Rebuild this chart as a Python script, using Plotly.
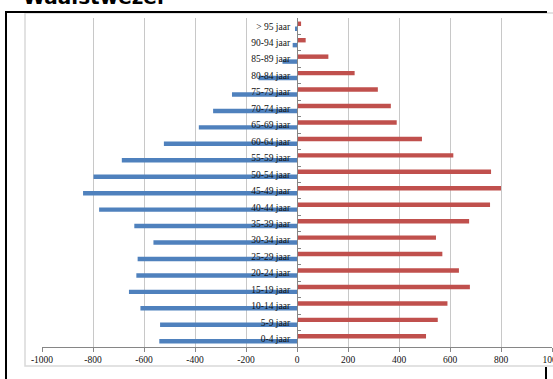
import plotly.graph_objects as go

# Age groups, youngest at the bottom
age_groups = ["0-4 jaar", "5-9 jaar", "10-14 jaar", "15-19 jaar", "20-24 jaar",
              "25-29 jaar", "30-34 jaar", "35-39 jaar", "40-44 jaar", "45-49 jaar",
              "50-54 jaar", "55-59 jaar", "60-64 jaar", "65-69 jaar", "70-74 jaar",
              "75-79 jaar", "80-84 jaar", "85-89 jaar", "90-94 jaar", "> 95 jaar"]

# Men plotted to the left (negative), women to the right
men = [-540, -537, -614, -659, -630, -625, -563, -638, -776, -839,
       -798, -687, -522, -385, -329, -255, -151, -57, -17, -5]
women = [506, 552, 590, 678, 635, 570, 545, 675, 757, 800,
         761, 613, 490, 391, 368, 317, 226, 123, 34, 16]

x_ticks = [-1000, -800, -600, -400, -200, 0, 200, 400, 600, 800, 1000]

W, H = 553, 379
ML, MR, MT, MB = 42, 1, 18, 32
PW, PH = W - ML - MR, H - MT - MB


def fx(px):
    return (px - ML) / PW


def fy(py):
    return (H - MB - py) / PH


serif = "Liberation Serif"

fig = go.Figure()
fig.add_trace(go.Bar(y=age_groups, x=men, orientation="h",
                     marker=dict(color="#4f81bd", line=dict(width=0)), name="Mannen"))
fig.add_trace(go.Bar(y=age_groups, x=women, orientation="h",
                     marker=dict(color="#c0504d", line=dict(width=0)), name="Vrouwen"))

shapes = [
    # chart area
    dict(type="rect", xref="paper", yref="paper", layer="below",
         x0=fx(25), x1=fx(600), y0=fy(366), y1=fy(13),
         fillcolor="white", line=dict(color="#d9d9d9", width=1.5)),
    # outer frame
    dict(type="line", xref="paper", yref="paper", layer="above",
         x0=fx(6), x1=fx(6), y0=fy(12), y1=fy(400),
         line=dict(color="black", width=2)),
    dict(type="line", xref="paper", yref="paper", layer="above",
         x0=fx(5), x1=fx(547), y0=fy(12), y1=fy(12),
         line=dict(color="black", width=2)),
    dict(type="line", xref="paper", yref="paper", layer="above",
         x0=fx(546), x1=fx(546), y0=fy(367), y1=fy(400),
         line=dict(color="black", width=2)),
]

fig.update_layout(
    width=W, height=H,
    margin=dict(l=ML, r=MR, t=MT, b=MB, autoexpand=False),
    paper_bgcolor="white", plot_bgcolor="white",
    barmode="group", bargap=0.4, bargroupgap=0.1,
    showlegend=False,
    shapes=shapes,
    annotations=[dict(text="<b>Waalstwezer</b>", xref="paper", yref="paper",
                      x=fx(21), y=fy(11), xanchor="left", yanchor="bottom",
                      showarrow=False,
                      font=dict(family="DejaVu Sans", size=20, color="black"))],
    xaxis=dict(range=[-1000, 1000], tickvals=x_ticks,
               ticktext=[str(v) for v in x_ticks],
               showgrid=True, gridcolor="#c8c8c8", gridwidth=1,
               zeroline=False, showline=True, linecolor="#868686", linewidth=1,
               ticks="outside", ticklen=4, tickcolor="#868686",
               ticklabeloverflow="allow",
               tickfont=dict(family=serif, size=9.5, color="#111111")),
    yaxis=dict(type="category", categoryorder="array", categoryarray=age_groups,
               anchor="free", position=0.5, showgrid=False, zeroline=False,
               showline=True, linecolor="#868686", linewidth=1,
               ticks="inside", ticklen=3, tickcolor="#868686", tickson="boundaries",
               ticklabelstandoff=5,
               tickfont=dict(family=serif, size=9.5, color="#111111")),
)

fig.write_html("out.html")
